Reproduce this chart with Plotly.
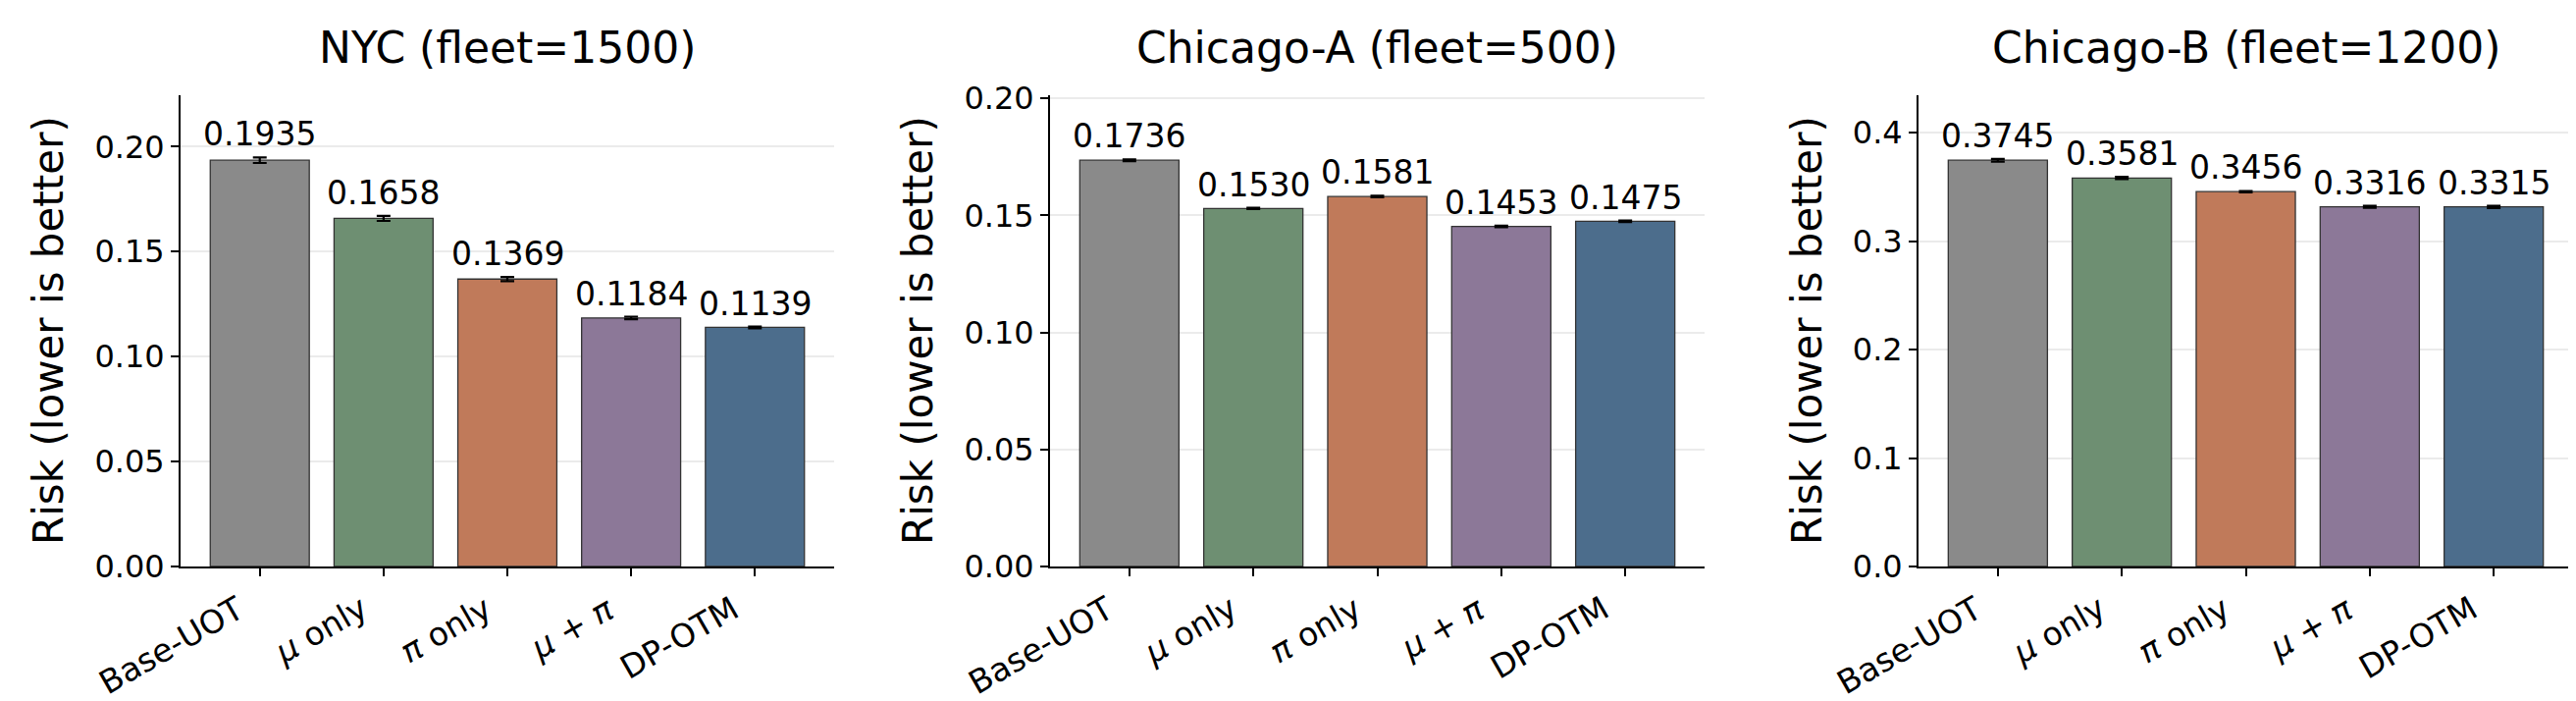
import plotly.graph_objects as go
from plotly.subplots import make_subplots

# metodos y colores
metodos = ['Base-UOT', 'mu only', 'pi only', 'mu+pi', 'DP-OTM']
etiquetas = ['Base-UOT', '<i>μ</i> only', '<i>π</i> only', '<i>μ</i> + <i>π</i>', 'DP-OTM']
colores = ['#8a8a8a', '#6e8f72', '#c07a5a', '#8c7898', '#4c6d8c']

# datos por ciudad
titulos = ['NYC (fleet=1500)', 'Chicago-A (fleet=500)', 'Chicago-B (fleet=1200)']
nyc_riesgo = [0.1935, 0.1658, 0.1369, 0.1184, 0.1139]
nyc_err = [0.0013, 0.0012, 0.0010, 0.0006, 0.0004]
chia_riesgo = [0.1736, 0.1530, 0.1581, 0.1453, 0.1475]
chia_err = [0.0004, 0.0003, 0.0003, 0.0003, 0.0003]
chib_riesgo = [0.3745, 0.3581, 0.3456, 0.3316, 0.3315]
chib_err = [0.0012, 0.0010, 0.0006, 0.0010, 0.0010]

ciudades = [(nyc_riesgo, nyc_err, '.2f', 0.05),
            (chia_riesgo, chia_err, '.2f', 0.05),
            (chib_riesgo, chib_err, '.1f', 0.1)]

W, H = 2625, 714
fuente = 'DejaVu Sans'
# posiciones de los ejes en px
x_px = [(176, 842), (1062, 1729), (1947, 2614)]
ytit_px = [42, 928, 1834]
y_top, y_bot = 89, 569

fig = make_subplots(rows=1, cols=3)
anotaciones = []

for i, (riesgo, err, fmt, paso) in enumerate(ciudades):
    fila, col = 1, i + 1
    fig.add_trace(go.Bar(x=metodos, y=riesgo, width=0.8,
                         marker=dict(color=colores, line=dict(color='#333333', width=1.3)),
                         error_y=dict(type='data', array=err, color='black', thickness=2.2, width=7),
                         showlegend=False), fila, col)
    xa = 'x' if i == 0 else 'x%d' % (i + 1)
    ya = 'y' if i == 0 else 'y%d' % (i + 1)
    # etiquetas de valor
    for m, v, e in zip(metodos, riesgo, err):
        anotaciones.append(dict(x=m, y=v + e, xref=xa, yref=ya, text='%.4f' % v,
                                showarrow=False, yanchor='bottom', yshift=2,
                                font=dict(family=fuente, size=33, color='black')))
    # etiquetas del eje x rotadas (alineadas a la derecha como en matplotlib)
    for m, t in zip(metodos, etiquetas):
        anotaciones.append(dict(x=m, y=1 - 590 / H, xref=xa, yref='paper', text=t,
                                textangle=-30, showarrow=False, xanchor='right', yanchor='top',
                                xshift=-9, borderpad=0,
                                font=dict(family=fuente, size=33, color='black')))
    # titulo
    x0, x1 = x_px[i]
    anotaciones.append(dict(x=(x0 + x1) / 2 / W, y=1 - 40 / H, xref='paper', yref='paper',
                            text=titulos[i], showarrow=False, xanchor='center', yanchor='middle',
                            font=dict(family=fuente, size=44, color='black')))
    anotaciones.append(dict(x=ytit_px[i] / W, y=1 - (y_top + y_bot) / 2 / H, xref='paper', yref='paper',
                            text='Risk (lower is better)', textangle=-90, showarrow=False,
                            xanchor='center', yanchor='middle',
                            font=dict(family=fuente, size=42, color='black')))
    fig.update_xaxes(domain=[x0 / W, x1 / W], range=[-0.64, 4.64], automargin=False,
                     showticklabels=False,
                     showline=True, linecolor='black', linewidth=1.8,
                     ticks='outside', ticklen=8, tickwidth=1.8, tickcolor='black',
                     showgrid=False, row=fila, col=col)
    fig.update_yaxes(domain=[1 - y_bot / H, 1 - y_top / H], range=[0, max(riesgo) * 1.16],
                     automargin=False, dtick=paso, tick0=0, tickformat=fmt,
                     showline=True, linecolor='black', linewidth=1.8,
                     ticks='outside', ticklen=8, tickwidth=1.8, tickcolor='black',
                     showgrid=True, gridcolor='#ebebeb', gridwidth=1.5, zeroline=False,
                     tickfont=dict(family=fuente, size=32, color='black'),
                     row=fila, col=col)

fig.update_layout(width=W, height=H, margin=dict(l=0, r=0, t=0, b=0, autoexpand=False),
                  plot_bgcolor='white', paper_bgcolor='white',
                  annotations=anotaciones, bargap=0.2)
fig.write_html('out.html')
